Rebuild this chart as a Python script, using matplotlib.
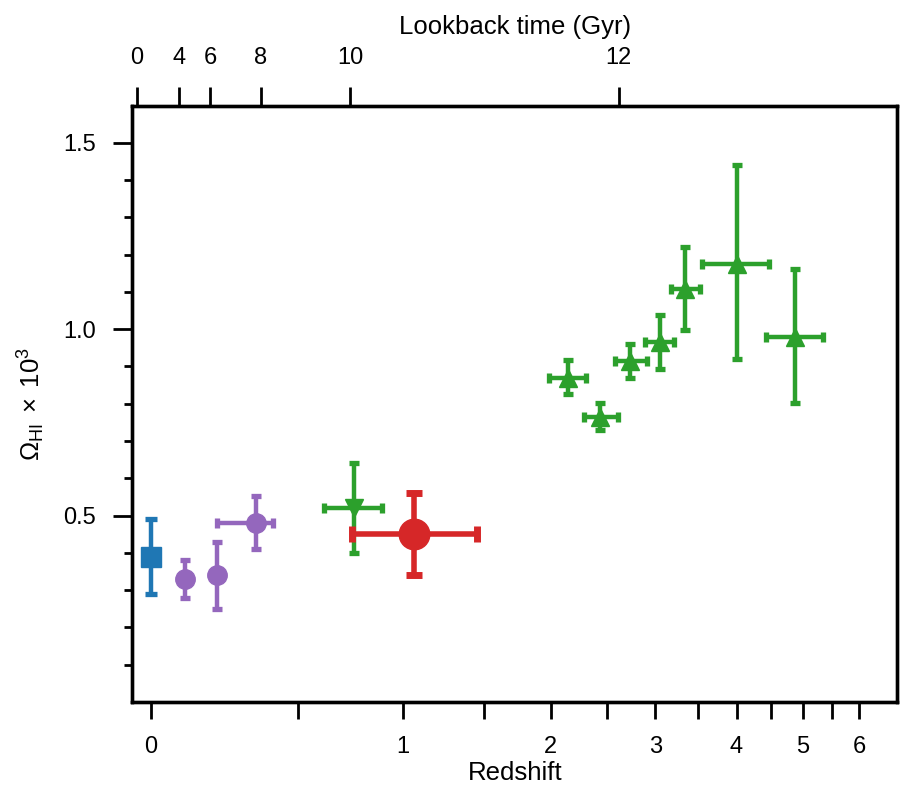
import numpy as np
import matplotlib
matplotlib.use("Agg")
import matplotlib.pyplot as plt

plt.rcParams['font.family'] = ['Liberation Sans', 'DejaVu Sans']
plt.rcParams['mathtext.fontset'] = 'custom'
plt.rcParams['mathtext.rm'] = 'Liberation Sans'
plt.rcParams['mathtext.it'] = 'Liberation Sans:italic'
plt.rcParams['mathtext.bf'] = 'Liberation Sans:bold'

# ---- data (redshift z, Omega_HI x 1e3) ----
# local 21cm measurement
blue_z = [0.0]
blue_y = [0.39]
blue_ylo = [0.29]
blue_yhi = [0.49]

# low-z stacking, no redshift bins
purple_z = [0.10, 0.20]
purple_y = [0.33, 0.34]
purple_ylo = [0.28, 0.25]
purple_yhi = [0.38, 0.43]

# low-z point with a redshift bin
purple2_z = [0.335]
purple2_zlo = [0.20]
purple2_zhi = [0.40]
purple2_y = [0.48]
purple2_ylo = [0.41]
purple2_yhi = [0.553]

# intermediate-z
gdown_z = [0.75]
gdown_zlo = [0.61]
gdown_zhi = [0.89]
gdown_y = [0.52]
gdown_ylo = [0.40]
gdown_yhi = [0.64]

# this work
red_z = [1.06]
red_zlo = [0.74]
red_zhi = [1.45]
red_y = [0.45]
red_ylo = [0.34]
red_yhi = [0.56]

# DLA surveys
gup_z = [2.15, 2.44, 2.73, 3.05, 3.34, 4.00, 4.87]
gup_zlo = [1.99, 2.29, 2.58, 2.89, 3.18, 3.55, 4.42]
gup_zhi = [2.31, 2.61, 2.91, 3.21, 3.52, 4.46, 5.34]
gup_y = [0.870, 0.765, 0.915, 0.966, 1.107, 1.174, 0.979]
gup_ylo = [0.826, 0.729, 0.870, 0.894, 0.997, 0.919, 0.801]
gup_yhi = [0.917, 0.801, 0.960, 1.038, 1.221, 1.440, 1.161]

# axis ticks
z_ticks = [0, 0.5, 1, 1.5, 2, 2.5, 3, 3.5, 4, 4.5, 5, 5.5, 6]
z_labels = ['0', '', '1', '', '2', '', '3', '', '4', '', '5', '', '6']
lookback_labels = ['0', '4', '6', '8', '10', '12']
lookback_z = [-0.038, 0.081, 0.177, 0.353, 0.729, 2.618]  # where the top ticks sit

C_BLUE = '#1f77b4'
C_PURPLE = '#9467bd'
C_GREEN = '#2ca02c'
C_RED = '#d62728'


def errs(v, lo, hi):
    v, lo, hi = np.asarray(v), np.asarray(lo), np.asarray(hi)
    return [v - lo, hi - v]


fwd = lambda z: np.log10(1 + np.asarray(z, dtype=float))
inv = lambda u: 10 ** np.asarray(u, dtype=float) - 1

fig = plt.figure(figsize=(9.03, 7.88), dpi=100)
ax = fig.add_axes([0.1467, 0.1091, 0.8467, 0.757])
ax.set_xscale('function', functions=(fwd, inv))

ax.errorbar(blue_z, blue_y, yerr=errs(blue_y, blue_ylo, blue_yhi), fmt='s',
            color=C_BLUE, ms=14, elinewidth=3.2, capsize=4, capthick=3.8)
ax.errorbar(purple_z, purple_y, yerr=errs(purple_y, purple_ylo, purple_yhi), fmt='o',
            color=C_PURPLE, ms=14, elinewidth=3.2, capsize=3.8, capthick=3.8)
ax.errorbar(purple2_z, purple2_y, xerr=errs(purple2_z, purple2_zlo, purple2_zhi),
            yerr=errs(purple2_y, purple2_ylo, purple2_yhi), fmt='o',
            color=C_PURPLE, ms=14, elinewidth=3.2, capsize=3.8, capthick=3.8)
ax.errorbar(gdown_z, gdown_y, xerr=errs(gdown_z, gdown_zlo, gdown_zhi),
            yerr=errs(gdown_y, gdown_ylo, gdown_yhi), fmt='v',
            color=C_GREEN, ms=13, elinewidth=3.2, capsize=3.8, capthick=3.8)
ax.errorbar(red_z, red_y, xerr=errs(red_z, red_zlo, red_zhi),
            yerr=errs(red_y, red_ylo, red_yhi), fmt='o',
            color=C_RED, ms=22, elinewidth=4, capsize=6, capthick=5)
ax.errorbar(gup_z, gup_y, xerr=errs(gup_z, gup_zlo, gup_zhi),
            yerr=errs(gup_y, gup_ylo, gup_yhi), fmt='^',
            color=C_GREEN, ms=13, elinewidth=3.2, capsize=3.8, capthick=3.8)

xlim = (inv(-0.0217), inv(0.8905))
ax.set_xlim(*xlim)
ax.set_ylim(0, 1.6)

ax.set_xticks(z_ticks, z_labels)
ax.set_xticks([], minor=True)
ax.set_yticks([0.5, 1.0, 1.5], ['0.5', '1.0', '1.5'])
ax.set_yticks(np.arange(0.1, 1.55, 0.1), minor=True)

for s in ax.spines.values():
    s.set_linewidth(2.4)

ax.tick_params(axis='x', which='major', direction='out', length=12.5, width=2,
               pad=12, labelsize=17)
ax.tick_params(axis='y', which='major', direction='out', length=14, width=2,
               pad=12, labelsize=17)
ax.tick_params(axis='y', which='minor', direction='out', length=6, width=2)
ax.tick_params(right=False, top=False, which='both')

ax.set_xlabel('Redshift', fontsize=18.5, labelpad=2)
ax.set_ylabel(r'$\Omega_{\mathrm{HI}}\;\times\;10^{3}$', fontsize=18.5)
ax.yaxis.set_label_coords(-0.112, 0.5)

# top axis: lookback time
ax2 = ax.twiny()
ax2.set_xscale('function', functions=(fwd, inv))
ax2.set_xlim(*xlim)
ax2.set_xticks(lookback_z, lookback_labels)
ax2.set_xticks([], minor=True)
ax2.tick_params(axis='x', which='major', direction='out', length=13.5, width=2,
                pad=13, labelsize=17)
ax2.set_xlabel('Lookback time (Gyr)', fontsize=18.5, labelpad=9)
for s in ax2.spines.values():
    s.set_linewidth(2.4)

fig.savefig('out.png', dpi=100, facecolor='white')
